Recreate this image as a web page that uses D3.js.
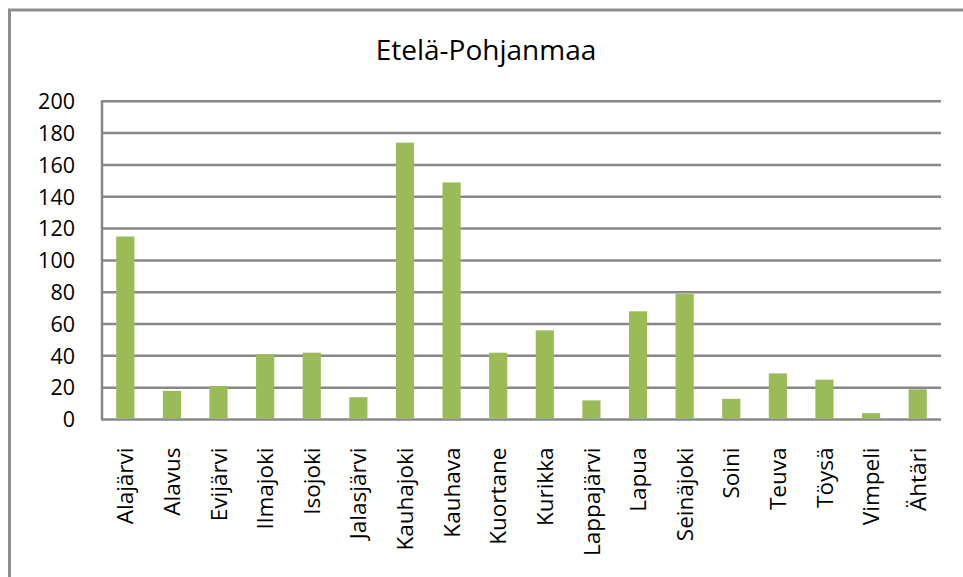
<!DOCTYPE html>
<html><head><meta charset="utf-8">
<script src="https://cdn.jsdelivr.net/npm/d3@7"></script>
<style>body{margin:0;background:#fff}svg{display:block}</style>
</head><body>
<svg id="c" width="963" height="577"></svg>
<script>
const title = "Etelä-Pohjanmaa";
const categories = ["Alajärvi","Alavus","Evijärvi","Ilmajoki","Isojoki","Jalasjärvi","Kauhajoki","Kauhava","Kuortane","Kurikka","Lappajärvi","Lapua","Seinäjoki","Soini","Teuva","Töysä","Vimpeli","Ähtäri"];
const values = [115,18,21,41,42,14,174,149,42,56,12,68,79,13,29,25,4,19];
const yTicks = [0,20,40,60,80,100,120,140,160,180,200];

const svg = d3.select("#c");
const font = "'Open Sans', sans-serif";
const m = {left:102, right:941, top:101.3, bottom:419.5};

// frame
svg.append("path").attr("d", `M9.5,600 L9.5,10 L980,10`)
  .attr("fill","none").attr("stroke","#8c8c8c").attr("stroke-width",3);

const x = d3.scaleBand().domain(categories).range([m.left, m.right]).paddingInner(0.61).paddingOuter(0.305);
const y = d3.scaleLinear().domain([0,200]).range([m.bottom, m.top]);

// gridlines
svg.append("g").selectAll("line").data(yTicks).join("line")
  .attr("x1", m.left).attr("x2", m.right)
  .attr("y1", d=>y(d)).attr("y2", d=>y(d))
  .attr("stroke","#888").attr("stroke-width",2.5);

// left axis line
svg.append("line").attr("x1",m.left).attr("x2",m.left).attr("y1",m.top-1).attr("y2",m.bottom+1)
  .attr("stroke","#888").attr("stroke-width",2.5);

// bars
svg.append("g").selectAll("rect").data(values).join("rect")
  .attr("x",(d,i)=>x(categories[i])).attr("width",x.bandwidth())
  .attr("y",d=>y(d)).attr("height",d=>m.bottom-1-y(d))
  .attr("fill","#9BBB59");

// y labels
svg.append("g").selectAll("text").data(yTicks).join("text")
  .attr("x",75).attr("y",d=>y(d)).attr("dy","0.36em")
  .attr("text-anchor","end").attr("font-family",font).attr("font-size",21.5)
  .attr("fill","#000").text(d=>d);

// x labels
svg.append("g").selectAll("text").data(categories).join("text")
  .attr("transform",d=>`translate(${x(d)+x.bandwidth()/2},${m.bottom+28}) rotate(-90)`)
  .attr("dy","0.36em").attr("text-anchor","end")
  .attr("font-family",font).attr("font-size",22.5).attr("fill","#000").text(d=>d);

// title
svg.append("text").attr("x",486).attr("y",60).attr("text-anchor","middle")
  .attr("font-family",font).attr("font-size",28).attr("fill","#000").text(title);
</script>
</body></html>
